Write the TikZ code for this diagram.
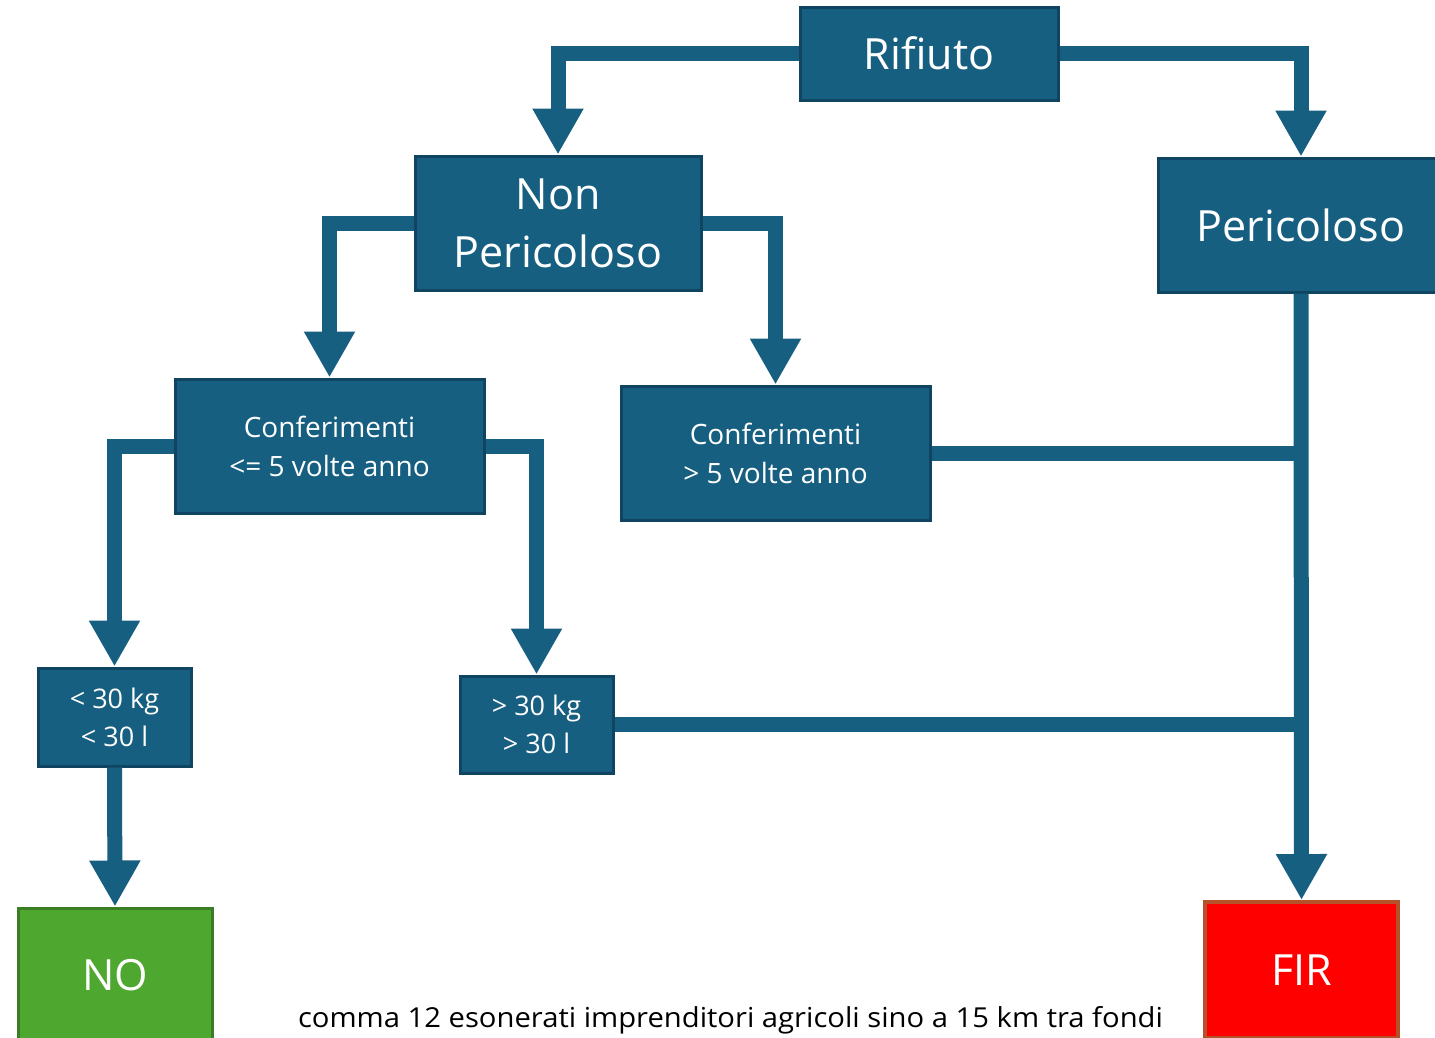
\documentclass[tikz,border=0pt]{standalone}
\usepackage{fontspec}
\usepackage{graphicx}
\setmainfont{Open Sans}
\usetikzlibrary{arrows.meta}
\definecolor{boxblue}{HTML}{175F80}
\definecolor{boxedge}{HTML}{0F4561}
\definecolor{nogreen}{HTML}{4EA72E}
\definecolor{noedge}{HTML}{3B7D23}
\definecolor{firred}{HTML}{FF0000}
\definecolor{firedge}{HTML}{B5522A}
\tikzset{
  bluebox/.style={draw=boxedge, fill=boxblue, line width=3pt, text=white, align=center, inner sep=0pt},
  bigtext/.style={font=\fontsize{43}{58}\selectfont},
  midtext/.style={font=\fontsize{28}{39}\selectfont},
  smalltext/.style={font=\fontsize{27}{38}\selectfont},
  conn/.style={draw=boxblue, line width=15pt, line join=miter},
  arr/.style={conn, -{Triangle[width=48pt,length=46pt]}}
}
\begin{document}
\begin{tikzpicture}[x=1pt,y=-1pt]
\useasboundingbox (0,0) rectangle (1435,1037);
\node[bluebox, bigtext, minimum width=258pt, minimum height=93pt] (rif) at (929,53.5) {Rifiuto};
\node[bluebox, bigtext, minimum width=286pt, minimum height=134pt] (np) at (558,223) {Non\\Pericoloso};
\node[bluebox, bigtext, minimum width=286pt, minimum height=134pt] (per) at (1301,225) {Pericoloso};
\node[bluebox, midtext, minimum width=309pt, minimum height=134pt] (c1) at (329.5,446) {Conferimenti\\<= 5 volte anno};
\node[bluebox, midtext, minimum width=309pt, minimum height=134pt] (c2) at (775.5,453) {Conferimenti\\> 5 volte anno};
\node[bluebox, smalltext, minimum width=153pt, minimum height=98pt] (kg1) at (114.5,717) {< 30 kg\\< 30 l};
\node[bluebox, smalltext, minimum width=153pt, minimum height=97pt] (kg2) at (536.5,724.5) {> 30 kg\\> 30 l};
\node[draw=noedge, fill=nogreen, line width=3pt, text=white, bigtext, minimum width=194pt, minimum height=134pt, inner sep=0pt] (no) at (115,975) {NO};
\node[draw=firedge, fill=firred, line width=4pt, text=white, bigtext, minimum width=193pt, minimum height=136pt, inner sep=0pt] (fir) at (1301.5,970) {FIR};
\node[text=black, inner sep=0pt, font=\fontsize{27.5}{30}\selectfont] (cap) at (730.5,1020) {\resizebox{865pt}{\height}{comma 12 esonerati imprenditori agricoli sino a 15 km tra fondi}};
\coordinate (j1) at (per.south |- c2.east);
\coordinate (j2) at (per.south |- kg2.east);
\draw[arr] (rif.west) -| (np.north);
\draw[arr] (rif.east) -| (per.north);
\draw[arr] (np.west) -| (c1.north);
\draw[arr] (np.east) -| (c2.north);
\draw[arr] (c1.west) -| (kg1.north);
\draw[arr] (c1.east) -| (kg2.north);
\draw[arr] (kg1.south) -- (no.north);
\draw[arr] (per.south) -- (fir.north);
\draw[conn] (c2.east) -- (j1);
\draw[conn] (kg2.east) -- (j2);
\end{tikzpicture}
\end{document}
